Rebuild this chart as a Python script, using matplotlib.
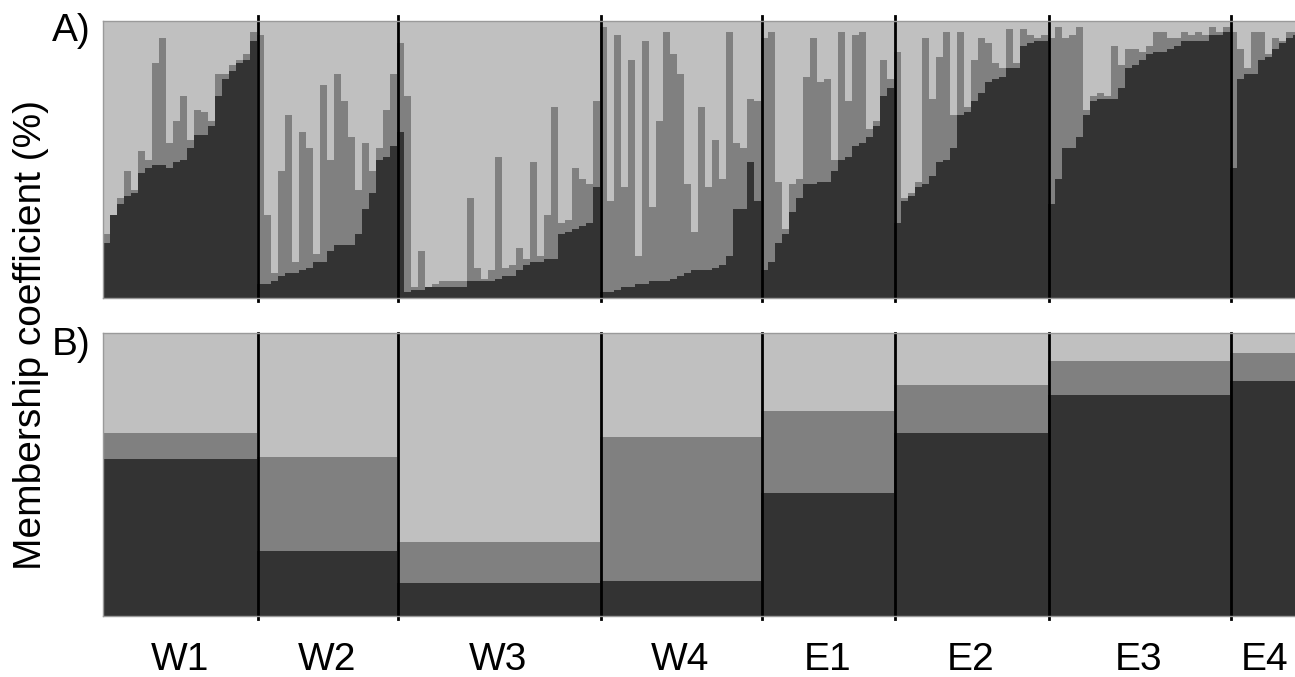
import matplotlib

matplotlib.use("Agg")
import matplotlib.pyplot as plt
import matplotlib.transforms as mtransforms
import numpy as np

# membership (%) of each individual in cluster 1 (dark) and cluster 2 (mid grey);
# the rest (light grey) is cluster 3
W1_K1 = [20, 30, 34, 37, 38, 45, 47, 48, 48, 47, 49, 50, 54, 59, 59, 62, 73, 79, 82, 85, 86, 93]
W1_K2 = [3, 0, 2, 9, 1, 8, 3, 37, 46, 9, 15, 23, 3, 9, 8, 2, 8, 2, 2, 1, 2, 3]
W2_K1 = [5, 5, 6, 8, 9, 9, 10, 11, 13, 13, 17, 19, 19, 19, 23, 32, 38, 50, 51, 55]
W2_K2 = [90, 25, 3, 38, 57, 4, 50, 43, 3, 64, 33, 62, 52, 39, 16, 24, 8, 4, 17, 26]
W3_K1 = [60, 2, 3, 3, 4, 4, 4, 4, 4, 4, 6, 6, 6, 6, 7, 8, 8, 10, 12, 13, 13, 14, 14, 23, 24, 25, 26, 27, 40]
W3_K2 = [32, 71, 1, 14, 0, 1, 2, 2, 2, 2, 30, 5, 1, 4, 44, 3, 4, 8, 2, 36, 2, 16, 55, 4, 4, 22, 17, 14, 31]
W4_K1 = [2, 2, 3, 4, 4, 5, 5, 6, 6, 6, 7, 8, 9, 10, 10, 10, 11, 12, 15, 32, 32, 49, 35]
W4_K2 = [96, 33, 92, 36, 82, 10, 88, 27, 58, 90, 81, 73, 32, 14, 59, 30, 46, 31, 81, 24, 22, 23, 36]
E1_K1 = [10, 13, 20, 23, 31, 36, 41, 41, 42, 42, 46, 50, 51, 55, 56, 58, 62, 73, 76]
E1_K2 = [84, 83, 22, 2, 10, 7, 39, 53, 36, 37, 4, 46, 20, 40, 40, 3, 2, 13, 3]
E2_K1 = [27, 35, 37, 40, 41, 44, 49, 50, 54, 66, 67, 71, 74, 78, 79, 80, 83, 83, 91, 92, 93, 93]
E2_K2 = [62, 1, 1, 2, 53, 28, 38, 46, 12, 30, 2, 15, 20, 14, 6, 3, 14, 2, 6, 3, 1, 2]
E3_K1 = [34, 43, 54, 54, 58, 66, 71, 72, 72, 72, 76, 83, 84, 86, 88, 89, 89, 90, 91, 93, 93, 93, 93, 95, 95, 96]
E3_K2 = [60, 55, 40, 41, 40, 2, 2, 2, 1, 19, 8, 7, 6, 3, 3, 7, 7, 4, 3, 3, 2, 3, 2, 3, 1, 2]
E4_K1 = [47, 79, 81, 81, 86, 87, 90, 92, 94, 95]
E4_K2 = [49, 11, 2, 15, 10, 1, 4, 1, 2, 1]

POPS = ["W1", "W2", "W3", "W4", "E1", "E2", "E3", "E4"]
IND_K1 = [W1_K1, W2_K1, W3_K1, W4_K1, E1_K1, E2_K1, E3_K1, E4_K1]
IND_K2 = [W1_K2, W2_K2, W3_K2, W4_K2, E1_K2, E2_K2, E3_K2, E4_K2]

# population averages (panel B)
POP_K1 = [55.5, 23.0, 11.7, 12.4, 43.5, 64.7, 78.1, 83.0]
POP_K2 = [9.2, 33.2, 14.4, 50.9, 28.9, 16.9, 12.0, 9.9]

DARK = "#333333"
MID = "#808080"
LIGHT = "#c0c0c0"
XMAX = 170.3


def style_axes(ax):
    ax.set_xlim(0, XMAX)
    ax.set_ylim(0, 100)
    ax.set_xticks([])
    ax.set_yticks([])
    for side in ("left", "top", "bottom"):
        ax.spines[side].set_color("#9a9a9a")
        ax.spines[side].set_linewidth(1.0)
    ax.spines["right"].set_visible(False)


def draw_stack(ax, x, widths, k1, k2):
    k1 = np.asarray(k1, dtype=float)
    k2 = np.asarray(k2, dtype=float)
    k3 = 100 - k1 - k2
    kw = dict(width=widths, align="edge", linewidth=0)
    ax.bar(x, k1, color=DARK, **kw)
    ax.bar(x, k2, bottom=k1, color=MID, **kw)
    ax.bar(x, k3, bottom=k1 + k2, color=LIGHT, **kw)


def main():
    plt.rcParams["font.family"] = ["Liberation Sans", "DejaVu Sans"]

    fig = plt.figure(figsize=(12.95, 6.77), dpi=100)
    ax_a = fig.add_axes([0.0795, 0.5598, 0.9205, 0.409])
    ax_b = fig.add_axes([0.0795, 0.0901, 0.9205, 0.418])

    sizes = [len(k) for k in IND_K1]
    starts = np.concatenate([[0], np.cumsum(sizes)[:-1]])
    ends = np.cumsum(sizes)

    # A) individuals
    k1_all = np.concatenate(IND_K1)
    k2_all = np.concatenate(IND_K2)
    draw_stack(ax_a, np.arange(len(k1_all)), 1.0, k1_all, k2_all)

    # B) population means
    draw_stack(ax_b, starts, sizes, POP_K1, POP_K2)

    for ax, top in ((ax_a, 1.02), (ax_b, 1.0)):
        style_axes(ax)
        for e in ends[:-1]:
            ax.axvline(e + 0.2, ymin=-0.012, ymax=top, color="black",
                       linewidth=2.0, clip_on=False)

    fig.text(0.040, 0.939, "A)", fontsize=28, ha="left", va="baseline")
    fig.text(0.040, 0.476, "B)", fontsize=28, ha="left", va="baseline")
    fig.text(0.024, 0.505, "Membership coefficient (%)", fontsize=28,
             rotation=90, ha="center", va="center")

    trans = mtransforms.blended_transform_factory(ax_b.transData, ax_b.transAxes)
    for name, s, n in zip(POPS, starts, sizes):
        ax_b.text(s + n / 2, -0.155, name, fontsize=28, ha="center",
                  va="center", transform=trans)

    fig.savefig("out.png", dpi=100)


if __name__ == "__main__":
    main()
